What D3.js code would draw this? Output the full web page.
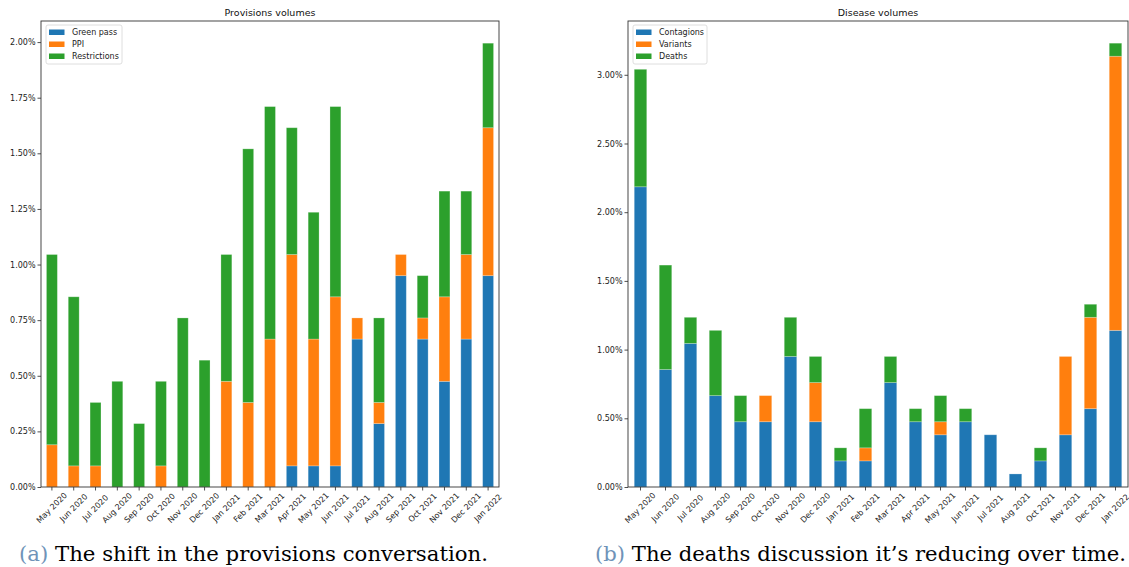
<!DOCTYPE html>
<html>
<head>
<meta charset="utf-8">
<script src="https://cdn.jsdelivr.net/npm/d3@7"></script>
<style>
  body { margin: 0; background: white; }
  svg text { font-family: "DejaVu Sans", sans-serif; }
  svg text.caption { font-family: "DejaVu Serif", "Liberation Serif", serif; }
</style>
</head>
<body>
<div id="display"></div>
<script>
// months and values (percent of total volume)
const monthsA = ["May 2020","Jun 2020","Jul 2020","Aug 2020","Sep 2020","Oct 2020","Nov 2020","Dec 2020",
  "Jan 2021","Feb 2021","Mar 2021","Apr 2021","May 2021","Jun 2021","Jul 2021","Aug 2021","Sep 2021",
  "Oct 2021","Nov 2021","Dec 2021","Jan 2022"];
const greenPass    = [0,0,0,0,0,0,0,0,0,0,0,0.095,0.095,0.095,0.665,0.285,0.95,0.665,0.475,0.665,0.95];
const ppi          = [0.19,0.095,0.095,0,0,0.095,0,0,0.475,0.38,0.665,0.95,0.57,0.76,0.095,0.095,0.095,0.095,0.38,0.38,0.665];
const restrictions = [0.855,0.76,0.285,0.475,0.285,0.38,0.76,0.57,0.57,1.14,1.045,0.57,0.57,0.855,0,0.38,0,0.19,0.475,0.285,0.38];
const ticksA = [0,0.25,0.5,0.75,1,1.25,1.5,1.75,2];

const monthsB = ["May 2020","Jun 2020","Jul 2020","Aug 2020","Sep 2020","Oct 2020","Nov 2020","Dec 2020",
  "Jan 2021","Feb 2021","Mar 2021","Apr 2021","May 2021","Jun 2021","Jul 2021","Aug 2021",
  "Oct 2021","Nov 2021","Dec 2021","Jan 2022"];
const contagions = [2.185,0.855,1.045,0.665,0.475,0.475,0.95,0.475,0.19,0.19,0.76,0.475,0.38,0.475,0.38,0.095,0.19,0.38,0.57,1.14];
const variants   = [0,0,0,0,0,0.19,0,0.285,0,0.095,0,0,0.095,0,0,0,0,0.57,0.665,1.995];
const deaths     = [0.855,0.76,0.19,0.475,0.19,0,0.285,0.19,0.095,0.285,0.19,0.095,0.19,0.095,0,0,0.095,0,0.095,0.095];
const ticksB = [0,0.5,1,1.5,2,2.5,3];

const colors = ["#1f77b4", "#ff7f0e", "#2ca02c"];

const svg = d3.select('#display')
  .append('svg')
  .attr('width', 1129)
  .attr('height', 567);

function drawChart(opt) {
  const g = svg.append('g');
  const rows = opt.months.map((m, i) => {
    const r = { month: m };
    opt.keys.forEach((k, j) => r[k] = opt.series[j][i]);
    return r;
  });
  const stacked = d3.stack().keys(opt.keys)(rows);
  const maxTotal = d3.max(stacked[stacked.length - 1], d => d[1]);

  const x = d3.scaleBand()
    .domain(opt.months)
    .range([opt.x0, opt.x1])
    .paddingInner(0.5)
    .paddingOuter(0.25);
  const y = d3.scaleLinear()
    .domain([0, maxTotal * 1.05])
    .range([opt.y1, opt.y0]);

  // bars
  stacked.forEach((layer, j) => {
    g.append('g')
      .selectAll('rect')
      .data(layer)
      .join('rect')
      .attr('x', d => x(d.data.month))
      .attr('width', x.bandwidth())
      .attr('y', d => y(d[1]))
      .attr('height', d => y(d[0]) - y(d[1]))
      .attr('fill', colors[j])
      .attr('stroke', d => d[1] > d[0] ? 'white' : 'none')
      .attr('stroke-opacity', 0.3)
      .attr('stroke-width', 0.8);
  });

  // y axis
  const yAxis = g.append('g')
    .attr('transform', `translate(${opt.x0},0)`)
    .call(d3.axisLeft(y).tickValues(opt.ticks).tickFormat(d => d3.format('.2f')(d) + '%').tickSize(3.5).tickPadding(2));
  yAxis.select('.domain').remove();
  yAxis.selectAll('text').attr('font-size', 8).attr('fill', '#222');
  yAxis.selectAll('line').attr('stroke', '#222').attr('stroke-width', 0.8);

  // x axis
  const xAxis = g.append('g')
    .attr('transform', `translate(0,${opt.y1})`)
    .call(d3.axisBottom(x).tickSize(3.5));
  xAxis.select('.domain').remove();
  xAxis.selectAll('line').attr('stroke', '#222').attr('stroke-width', 0.8);
  xAxis.selectAll('text')
    .attr('font-size', 8)
    .attr('fill', '#222')
    .attr('y', 0).attr('dy', null)
    .attr('text-anchor', 'middle')
    .attr('dominant-baseline', 'central')
    .attr('transform', 'translate(0,21) rotate(-45)');

  // frame
  g.append('rect')
    .attr('x', opt.x0).attr('y', opt.y0)
    .attr('width', opt.x1 - opt.x0).attr('height', opt.y1 - opt.y0)
    .attr('fill', 'none').attr('stroke', '#333').attr('stroke-width', 0.9);

  // title
  g.append('text')
    .attr('x', (opt.x0 + opt.x1) / 2).attr('y', 16)
    .attr('text-anchor', 'middle')
    .attr('font-size', 9.5).attr('fill', '#111')
    .text(opt.title);

  // legend
  const lg = g.append('g').attr('transform', `translate(${opt.x0 + 5},${opt.y0 + 4})`);
  lg.append('rect')
    .attr('width', opt.legendW).attr('height', 39)
    .attr('rx', 2)
    .attr('fill', 'white').attr('stroke', '#d6d6d6').attr('stroke-width', 0.8);
  opt.keys.forEach((k, j) => {
    lg.append('rect')
      .attr('x', 3).attr('y', 4.5 + j * 12)
      .attr('width', 15.5).attr('height', 5.5)
      .attr('fill', colors[j]);
    lg.append('text')
      .attr('x', 26).attr('y', 7.3 + j * 12)
      .attr('dominant-baseline', 'central')
      .attr('font-size', 8).attr('fill', '#222')
      .text(k);
  });
}

drawChart({
  months: monthsA, keys: ["Green pass", "PPI", "Restrictions"],
  series: [greenPass, ppi, restrictions], ticks: ticksA,
  x0: 41, x1: 499, y0: 21, y1: 487, title: "Provisions volumes", legendW: 76
});

drawChart({
  months: monthsB, keys: ["Contagions", "Variants", "Deaths"],
  series: [contagions, variants, deaths], ticks: ticksB,
  x0: 628, x1: 1128, y0: 21, y1: 487, title: "Disease volumes", legendW: 74
});

// captions
function caption(x, width, label, body) {
  const t = svg.append('text')
    .attr('class', 'caption')
    .attr('x', x).attr('y', 561)
    .attr('font-size', 20)
    .attr('fill', '#000');
  t.append('tspan').attr('fill', '#6f93b8').text(label);
  t.append('tspan').text(' ' + body);
  t.attr('textLength', width).attr('lengthAdjust', 'spacingAndGlyphs');
}
caption(19, 469, "(a)", "The shift in the provisions conversation.");
caption(595, 531, "(b)", "The deaths discussion it\u2019s reducing over time.");
</script>
</body>
</html>
